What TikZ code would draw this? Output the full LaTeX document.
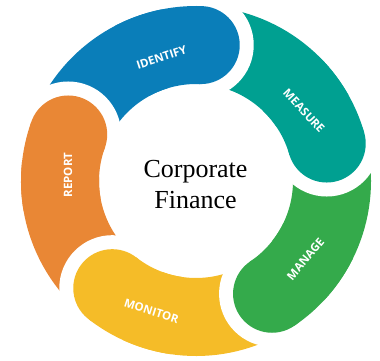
\documentclass[tikz,border=0pt]{standalone}
\usepackage{fontspec}
\setmainfont{Liberation Serif}
\newfontfamily\labelfont{Open Sans}
\definecolor{cBlue}{RGB}{10,126,185}
\definecolor{cTeal}{RGB}{0,160,145}
\definecolor{cGreen}{RGB}{52,170,75}
\definecolor{cYellow}{RGB}{245,188,40}
\definecolor{cOrange}{RGB}{233,135,53}
\begin{document}
\begin{tikzpicture}[x=1pt,y=1pt,
  ringpart/.style={line width=78pt},
  steplabel/.style={text=white,font=\labelfont\bfseries\fontsize{11.5}{13}\selectfont,inner sep=0pt},
  title/.style={font=\fontsize{26}{31}\selectfont,align=center,inner sep=0pt}]
\useasboundingbox (-196,-179) rectangle (184,181);
% ring segments: body runs clockwise from the previous cap to its own lead angle
\foreach \c/\a in {cBlue/88,cTeal/16,cGreen/-56,cYellow/-128,cOrange/160}{
  \draw[ringpart,\c] (\a+72:136) arc[start angle=\a+72,end angle=\a,radius=136];
}
% rounded leading ends with a white gap that carves the next segment's tail
\foreach \c/\a in {cBlue/88,cTeal/16,cGreen/-56,cYellow/-128,cOrange/160}{
  \fill[white] (\a:136) circle[radius=53];
  \draw[ringpart,\c] (\a+30:136) arc[start angle=\a+30,end angle=\a,radius=136];
  \fill[\c] (\a:136) circle[radius=39];
}
% step labels
\node[steplabel,rotate=18]  (identify) at (-34.5,123.5) {IDENTIFY};
\node[steplabel,rotate=-47] (measure)  at (108,70)      {MEASURE};
\node[steplabel,rotate=50]  (manage)   at (109.5,-78)   {MANAGE};
\node[steplabel,rotate=-17.5] (monitor) at (-44.5,-130) {MONITOR};
\node[steplabel,rotate=90]  (report)   at (-128,6)      {REPORT};
% centre title (base anchor sits on the last line)
\node[title,anchor=base] (centre) at (-0.5,-27) {Corporate\\Finance};
\end{tikzpicture}
\end{document}
